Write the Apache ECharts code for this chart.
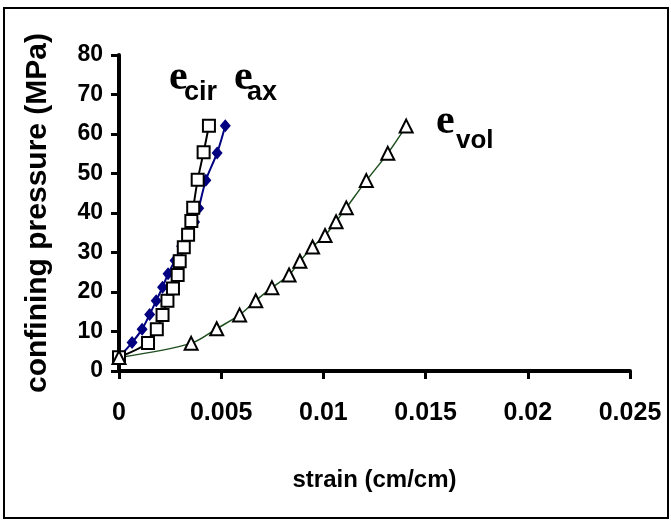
<!DOCTYPE html>
<html>
<head>
<meta charset="utf-8">
<script src="https://cdn.jsdelivr.net/npm/echarts@6/dist/echarts.min.js"></script>
<style>
html,body{margin:0;padding:0;background:#fff;}
#chart{width:671px;height:521px;}
</style>
</head>
<body>
<div id="chart"></div>
<script>
// ---- data ----
var xTickLabels = ['0', '0.005', '0.01', '0.015', '0.02', '0.025'];
var yTickLabels = ['0', '10', '20', '30', '40', '50', '60', '70', '80'];

var axStrain = [0, 0.00064, 0.00113, 0.0015, 0.00182, 0.00213, 0.0024, 0.00274, 0.00306, 0.0034, 0.0037, 0.0039, 0.00425, 0.0048, 0.0052];
var axPressure = [3.5, 7.2, 10.6, 14.3, 17.8, 21.2, 24.6, 28.0, 31.6, 34.5, 37.7, 41.2, 48.3, 55.2, 62.1];

var cirStrain = [0, 0.00142, 0.00185, 0.00213, 0.00237, 0.00264, 0.00287, 0.00297, 0.00317, 0.00338, 0.00354, 0.00363, 0.00385, 0.00414, 0.0044];
var cirPressure = [3.5, 7.1, 10.6, 14.2, 17.8, 20.9, 24.3, 27.8, 31.3, 34.5, 38.0, 41.3, 48.4, 55.4, 62.1];

var volStrain = [0, 0.00353, 0.00478, 0.0059, 0.00669, 0.00748, 0.00832, 0.00885, 0.00947, 0.01008, 0.01062, 0.01112, 0.0121, 0.01315, 0.01405];
var volPressure = [3.4, 7.0, 10.7, 14.2, 17.8, 21.1, 24.3, 27.8, 31.4, 34.3, 37.8, 41.3, 48.2, 55.1, 62.0];

function pairs(xs, ys) {
  return xs.map(function (x, i) { return [x, ys[i]]; });
}

var chart = echarts.init(document.getElementById('chart'), null, {renderer: 'canvas'});
var sans = "'Liberation Sans', Arial, sans-serif";
var serif = "'Liberation Serif', 'Times New Roman', serif";

var option = {
  backgroundColor: '#ffffff',
  animation: false,
  grid: {left: 119, right: 41, top: 55, bottom: 150, containLabel: false},
  xAxis: {
    type: 'value', min: 0, max: 0.025, interval: 0.005,
    name: 'strain (cm/cm)', nameLocation: 'middle', nameGap: 97,
    nameTextStyle: {fontFamily: sans, fontWeight: 'bold', fontSize: 24, color: '#000'},
    axisLine: {show: true, lineStyle: {color: '#000', width: 4}},
    axisTick: {show: true, length: 8, lineStyle: {color: '#000', width: 3}},
    splitLine: {show: false},
    axisLabel: {
      fontFamily: sans, fontWeight: 'bold', fontSize: 25, color: '#000', margin: 30,
      formatter: function (v) { return xTickLabels[Math.round(v / 0.005)]; }
    }
  },
  yAxis: {
    type: 'value', min: 0, max: 80, interval: 10,
    name: 'confining pressure (MPa)', nameLocation: 'middle', nameGap: 66,
    nameTextStyle: {fontFamily: sans, fontWeight: 'bold', fontSize: 30, color: '#000'},
    axisLine: {show: true, lineStyle: {color: '#000', width: 4}},
    axisTick: {show: true, length: 8, lineStyle: {color: '#000', width: 3}},
    splitLine: {show: false},
    axisLabel: {
      fontFamily: sans, fontWeight: 'bold', fontSize: 23, color: '#000', margin: 16,
      formatter: function (v) { return yTickLabels[Math.round(v / 10)]; }
    }
  },
  series: [
    {
      name: 'e_ax', type: 'line', data: pairs(axStrain, axPressure),
      smooth: 0.3, symbol: 'diamond', symbolSize: [11, 13],
      lineStyle: {color: '#000080', width: 2},
      itemStyle: {color: '#000080', borderColor: '#000080', borderWidth: 0}
    },
    {
      name: 'e_cir', type: 'line', data: pairs(cirStrain, cirPressure),
      smooth: 0.3, symbol: 'rect', symbolSize: 12,
      lineStyle: {color: '#000', width: 2},
      itemStyle: {color: '#fff', borderColor: '#000', borderWidth: 2}
    },
    {
      name: 'e_vol', type: 'line', data: pairs(volStrain, volPressure),
      smooth: 0.3, symbol: 'triangle', symbolSize: 13,
      lineStyle: {color: '#1f4f1f', width: 1.5},
      itemStyle: {color: '#fff', borderColor: '#000', borderWidth: 2}
    }
  ],
  graphic: [
    {type: 'rect', shape: {x: 4, y: 8, width: 664, height: 510},
     style: {fill: 'none', stroke: '#000', lineWidth: 2}, z: 100},
    {type: 'text', left: 169, top: 57, style: {text: 'e', font: 'bold 42px ' + serif, fill: '#000'}},
    {type: 'text', left: 184, top: 79, style: {text: 'cir', font: 'bold 27px ' + sans, fill: '#000'}},
    {type: 'text', left: 234, top: 57, style: {text: 'e', font: 'bold 42px ' + serif, fill: '#000'}},
    {type: 'text', left: 247, top: 79, style: {text: 'ax', font: 'bold 27px ' + sans, fill: '#000'}},
    {type: 'text', left: 436, top: 101, style: {text: 'e', font: 'bold 42px ' + serif, fill: '#000'}},
    {type: 'text', left: 456, top: 128, style: {text: 'vol', font: 'bold 26px ' + sans, fill: '#000'}}
  ]
};
chart.setOption(option);
</script>
</body>
</html>
